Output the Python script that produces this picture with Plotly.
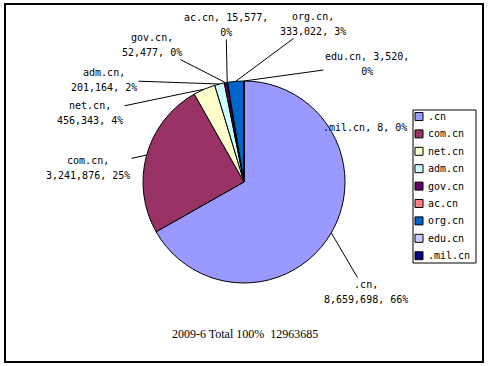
import math
import plotly.graph_objects as go

# ---- data ----
categories = [".cn", "com.cn", "net.cn", "adm.cn", "gov.cn", "ac.cn", "org.cn", "edu.cn", ".mil.cn"]
values = [8659698, 3241876, 456343, 201164, 52477, 15577, 333022, 3520, 8]
pct_labels = ["66%", "25%", "4%", "2%", "0%", "0%", "3%", "0%", "0%"]
colors = ["#9999FF", "#993366", "#FFFFCC", "#CCFFFF", "#660066", "#FF8080", "#0066CC", "#CCCCFF", "#000080"]
title_text = "2009-6 Total 100%  12963685"

# ---- layout constants (pixels) ----
W, H = 488, 366
CX, CY, R = 244, 182, 101
LABEL_FONT = "DejaVu Sans Mono"
# label text centre positions and how each label breaks its lines
label_pos = [(366, 292), (88, 168), (90, 113), (104, 80), (152, 45),
             (226, 25), (313, 24), (367, 64), (365, 128)]
label_break = ["name", "name", "name", "name", "name", "value", "name", "value", "none"]
show_leader = [True, True, True, True, True, True, True, True, False]


def px(x):
    return x / W


def py(y):
    return 1 - y / H


def small(s):
    return f"<span style='font-size:10px'>{s}</span>"


fig = go.Figure(go.Pie(
    labels=categories,
    values=values,
    sort=False,
    direction="clockwise",
    rotation=0,
    textinfo="none",
    hoverinfo="label+value+percent",
    marker=dict(colors=colors, line=dict(color="black", width=1)),
    domain=dict(x=[px(CX - R), px(CX + R)], y=[py(CY + R), py(CY - R)]),
    showlegend=False,
))

total = sum(values)
annotations = []
cum = 0
for name, v, pct, pos, brk, lead in zip(categories, values, pct_labels, label_pos, label_break, show_leader):
    mid = (cum + v / 2) / total
    cum += v
    th = 2 * math.pi * mid
    hx = CX + R * math.sin(th)
    hy = CY - R * math.cos(th)
    vs = f"{v:,}"
    if brk == "name":
        txt = small(f"{name},") + "<br>" + small(f"{vs}, {pct}")
    elif brk == "value":
        txt = small(f"{name}, {vs},") + "<br>" + small(pct)
    else:
        txt = small(f"{name}, {vs}, {pct}")
    if lead:
        annotations.append(dict(
            x=px(hx), y=py(hy), xref="paper", yref="paper",
            text=txt, showarrow=True, arrowhead=0, arrowwidth=1, arrowcolor="black",
            ax=pos[0] - hx, ay=pos[1] - hy, standoff=0, startstandoff=0,
            font=dict(family=LABEL_FONT, size=11.5, color="black"), align="center",
        ))
    else:
        annotations.append(dict(
            x=px(pos[0]), y=py(pos[1]), xref="paper", yref="paper",
            xanchor="center", yanchor="middle",
            text=txt, showarrow=False,
            font=dict(family=LABEL_FONT, size=11.5, color="black"), align="center",
        ))

# title at bottom
annotations.append(dict(
    x=px(245), y=py(334), xref="paper", yref="paper", text=title_text, showarrow=False,
    xanchor="center", yanchor="middle",
    font=dict(family="Liberation Serif", size=12, color="black"),
))

shapes = [dict(type="rect", xref="paper", yref="paper",
               x0=px(5), y0=py(4), x1=px(483), y1=py(362),
               line=dict(color="black", width=2), fillcolor="rgba(0,0,0,0)")]

# manual legend
LX0, LY0, LX1, LY1 = 413, 110, 476, 263
shapes.append(dict(type="rect", xref="paper", yref="paper",
                   x0=px(LX0), y0=py(LY0), x1=px(LX1), y1=py(LY1),
                   line=dict(color="black", width=1), fillcolor="white"))
for i, (name, col) in enumerate(zip(categories, colors)):
    yc = 116.5 + i * 17.4
    shapes.append(dict(type="rect", xref="paper", yref="paper",
                       x0=px(415), y0=py(yc - 4), x1=px(423), y1=py(yc + 4),
                       line=dict(color="black", width=1), fillcolor=col))
    annotations.append(dict(x=px(426), y=py(yc), xref="paper", yref="paper",
                            text=name, showarrow=False, xanchor="left", yanchor="middle",
                            font=dict(family=LABEL_FONT, size=10, color="black")))

fig.update_layout(
    width=W, height=H,
    margin=dict(l=0, r=0, t=0, b=0),
    paper_bgcolor="white", plot_bgcolor="white",
    annotations=annotations, shapes=shapes,
    showlegend=False,
)

fig.write_html("out.html", config={"displayModeBar": False},
               post_script="document.body.style.margin='0';document.body.style.overflow='hidden';")
